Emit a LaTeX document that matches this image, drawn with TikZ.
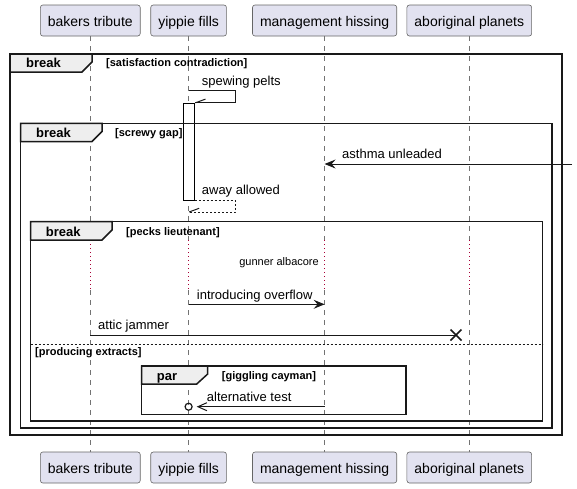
\documentclass[tikz,border=0pt]{standalone}
\usepackage{fontspec}
\setmainfont{Liberation Sans}
\usetikzlibrary{arrows.meta}
\definecolor{partfill}{HTML}{E2E2F0}
\definecolor{tabfill}{HTML}{EEEEEE}
\definecolor{delayred}{HTML}{A80036}
\tikzstyle{participant} = [rectangle, rounded corners=2.5pt, minimum height=31pt, inner xsep=7.5pt, inner ysep=0pt, text height=12pt, text depth=0.4pt, draw=black!60, line width=0.6pt, fill=partfill, font=\fontsize{14}{16}\selectfont]
\tikzstyle{lifeline} = [draw=black!55, line width=0.6pt, dash pattern=on 5pt off 5pt]
\tikzstyle{delayline} = [draw=delayred, line width=0.9pt, dash pattern=on 1pt off 3pt]
\tikzstyle{activation} = [rectangle, draw=black, fill=white, line width=1pt, minimum width=10.7pt, minimum height=97pt, inner sep=0pt]
\tikzstyle{frame} = [draw=black!90, line width=1.5pt]
\tikzstyle{tab} = [draw=black!90, line width=1.5pt, fill=tabfill]
\tikzstyle{tabtitle} = [anchor=base west, inner sep=0pt, font=\bfseries\fontsize{13}{15}\selectfont]
\tikzstyle{guard} = [anchor=base west, inner sep=0pt, font=\bfseries\fontsize{11}{13}\selectfont]
\tikzstyle{msg} = [anchor=base west, inner sep=0pt, font=\fontsize{13}{15}\selectfont]
\tikzstyle{msgline} = [draw=black!90, line width=1pt]
\tikzstyle{arrow} = [msgline, -{Stealth[length=11pt, width=9pt, inset=4pt]}]
\tikzstyle{openarrow} = [msgline, -{Straight Barb[length=9pt, width=8pt]}]
\tikzstyle{replyline} = [draw=black!90, line width=1pt, dash pattern=on 2pt off 2pt]

\begin{document}
\begin{tikzpicture}[x=1pt, y=-1pt]
\useasboundingbox (0,0) rectangle (577,488);

% participants, top and bottom
\node (bt) [participant] at (90.3,20.5) {bakers tribute};
\node (yf) [participant] at (188.6,20.5) {yippie fills};
\node (mh) [participant] at (324.6,20.5) {management hissing};
\node (ap) [participant] at (469.3,20.5) {aboriginal planets};

\node (btb) [participant] at (90.3,467.5) {bakers tribute};
\node (yfb) [participant] at (188.6,467.5) {yippie fills};
\node (mhb) [participant] at (324.6,467.5) {management hissing};
\node (apb) [participant] at (469.3,467.5) {aboriginal planets};

% lifelines with the delay band
\coordinate (dtop) at (0,240);
\coordinate (dbot) at (0,290);

\draw [lifeline] (bt.south) -- (bt |- dtop);
\draw [delayline] (bt |- dtop) -- (bt |- dbot);
\draw [lifeline] (bt |- dbot) -- (btb.north);
\draw [lifeline] (yf.south) -- (yf |- dtop);
\draw [delayline] (yf |- dtop) -- (yf |- dbot);
\draw [lifeline] (yf |- dbot) -- (yfb.north);
\draw [lifeline] (mh.south) -- (mh |- dtop);
\draw [delayline] (mh |- dtop) -- (mh |- dbot);
\draw [lifeline] (mh |- dbot) -- (mhb.north);
\draw [lifeline] (ap.south) -- (ap |- dtop);
\draw [delayline] (ap |- dtop) -- (ap |- dbot);
\draw [lifeline] (ap |- dbot) -- (apb.north);

\node (act) [activation] at (188.65,151.8) {};

% frames
\draw [frame] (10,54) rectangle (562,435);
\draw [tab] (10,54) -- (92,54) -- (92,62) -- (82,72) -- (10,72) -- cycle;
\node (brk1) [tabtitle] at (26,67.5) {break};
\node (cond1) [guard] at (106,66.5) {[satisfaction contradiction]};

\draw [frame] (20.7,123.3) rectangle (552,428);
\draw [tab] (20.7,123.3) -- (102,123.3) -- (102,131.5) -- (92,141.5) -- (20.7,141.5) -- cycle;
\node (brk2) [tabtitle] at (36,137) {break};
\node (cond2) [guard] at (115,136) {[screwy gap]};

\draw [frame] (30.7,221.7) rectangle (542.7,421);
\draw [tab] (30.7,221.7) -- (112,221.7) -- (112,230) -- (102,240) -- (30.7,240) -- cycle;
\node (brk3) [tabtitle] at (45.7,236) {break};
\node (cond3) [guard] at (126,235) {[pecks lieutenant]};

\draw [replyline] (30.7,344) -- (542.7,344);
\node (cond4) [guard] at (35,355) {[producing extracts]};

\draw [frame] (141.7,366) rectangle (406,414.3);
\draw [tab] (141.7,366) -- (207.7,366) -- (207.7,374) -- (196.7,384) -- (141.7,384) -- cycle;
\node (par1) [tabtitle] at (156.7,380) {par};
\node (cond5) [guard] at (221.7,379.5) {[giggling cayman]};

% messages
\coordinate (spew) at (yf |- 0,90);
\draw [msgline] (spew) -- ++(46.7,0) |- (act.north east);
\draw [msgline] (act.north east) ++(1,0) -- ++(10,-3.7);
\node (lspew) [msg] at (201.7,85) {spewing pelts};

\coordinate (asthma) at (572,164);
\draw [arrow] (asthma) -- (mh |- asthma);
\node (lasthma) [msg] at (342,158.3) {asthma unleaded};

\coordinate (away) at (yf |- 0,212);
\draw [replyline] (act.south east) -- ++(41,0) |- (away);
\draw [msgline] (away) ++(0.5,0) -- ++(10,-3.7);
\node (laway) [msg] at (201.7,194.3) {away allowed};

\node (lgunner) [anchor=base east, inner sep=0pt, font=\fontsize{11}{13}\selectfont] at (319,265) {gunner albacore};

\coordinate (intro) at (yf |- 0,304.3);
\draw [arrow] (intro) -- (mh |- intro);
\node (lintro) [msg] at (196.7,299) {introducing overflow};

\coordinate (attic) at (bt |- 0,335);
\coordinate (kill) at (456,335);
\draw [msgline] (attic) -- (kill);
\draw [msgline, line width=1.6pt] (kill) ++(-5.5,-5.5) -- ++(11,11) (kill) ++(-5.5,5.5) -- ++(11,-11);
\node (lattic) [msg] at (98,329) {attic jammer};

\node (lost) [circle, draw=black!90, line width=1.2pt, minimum size=7pt, inner sep=0pt] at (yf |- 0,406.7) {};
\coordinate (alt) at (mh |- lost);
\draw [openarrow, shorten >=4pt] (alt) -- (lost.east);
\node (lalt) [msg] at (206.7,401) {alternative test};

\end{tikzpicture}
\end{document}
